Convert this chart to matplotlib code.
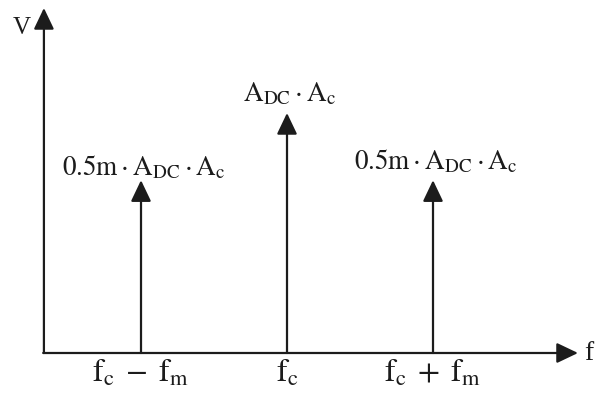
import matplotlib.pyplot as plt

plt.rcParams['mathtext.fontset'] = 'stix'
plt.rcParams['font.family'] = ['Liberation Serif', 'DejaVu Serif']

# spectrum of an AM signal: lower sideband, carrier, upper sideband
freqs = [1, 2, 3]
amps = [0.72, 1.0, 0.72]
tick_labels = [r'$\mathrm{f_c}\;-\;\mathrm{f_m}$', r'$\mathrm{f_c}$', r'$\mathrm{f_c}\;+\;\mathrm{f_m}$']
side = r'$\mathrm{0.5m}\cdot\mathrm{A_{DC}}\cdot\mathrm{A_c}$'
carrier = r'$\mathrm{A_{DC}}\cdot\mathrm{A_c}$'
peak_labels = [side, carrier, side]

ink = '#1c1c1c'
x0 = 0.335      # where the axes cross
x_end = 3.993
y_end = 1.4375

fig = plt.figure(figsize=(6, 3.98), dpi=100)
ax = fig.add_axes([0, 0, 1, 1])
ax.set_xlim(0.0342, 4.1438)
ax.set_ylim(-0.1875, 1.4708)
ax.axis('off')

head = dict(arrowstyle='-|>,head_length=0.65,head_width=0.31', mutation_scale=20,
            color=ink, lw=1.6, shrinkA=0, shrinkB=0)

# axes with arrowheads
ax.annotate('', xy=(x0, y_end), xytext=(x0, 0), arrowprops=head)
ax.annotate('', xy=(x_end, 0), xytext=(x0 - 0.005, 0), arrowprops=head)
ax.text(x0 - 0.15, 1.33, 'V', fontsize=18, ha='center', va='baseline', color=ink)
ax.text(4.07, -0.03, 'f', fontsize=20, ha='center', va='baseline', color=ink)

label_dy = [0.02, 0.05, 0.045]
for f, a, lab, dy, tl in zip(freqs, amps, peak_labels, label_dy, tick_labels):
    ax.annotate('', xy=(f, a), xytext=(f, 0), arrowprops=head)
    ax.text(f + 0.02, a + dy, lab, fontsize=19.5, ha='center', va='baseline', color=ink)
    ax.text(f, -0.12, tl, fontsize=23, ha='center', va='baseline', color=ink)

fig.savefig('out.png', dpi=100, facecolor='white')
